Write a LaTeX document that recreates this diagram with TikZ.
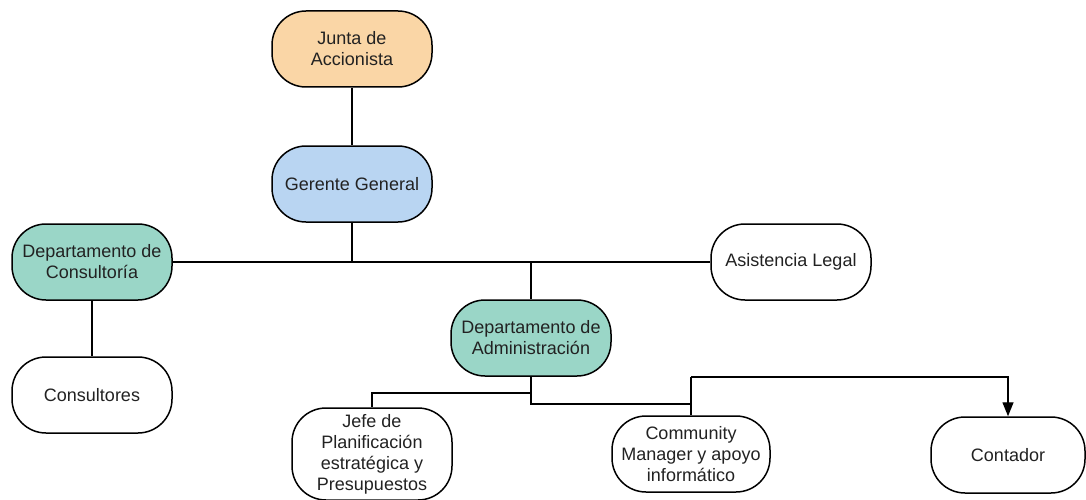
\documentclass[tikz,border=0pt]{standalone}
\usepackage{fontspec}
\setmainfont{Liberation Sans}
\usetikzlibrary{arrows.meta}
\definecolor{peach}{HTML}{FAD6A6}
\definecolor{skyb}{HTML}{B9D5F2}
\definecolor{teal1}{HTML}{9AD6C7}
\definecolor{ink}{HTML}{222222}
\tikzset{
  box/.style={draw=black, line width=1.5pt, rounded corners=34pt, minimum width=160pt, minimum height=76pt, inner sep=0pt, align=center, text=ink, font=\fontsize{18pt}{21pt}\selectfont, fill=white},
  conn/.style={draw=black, line width=1.4pt}
}
\begin{document}
\begin{tikzpicture}[x=1pt,y=-1pt]
\useasboundingbox (0,0) rectangle (1086,500);
\node[box, fill=peach] (junta) at (352,49) {Junta de\\Accionista};
\node[box, fill=skyb] (gerente) at (352,184) {Gerente General};
\node[box, fill=teal1] (consult) at (92,262) {Departamento de\\Consultoría};
\node[box] (asist) at (791,262) {Asistencia Legal};
\node[box] (consultores) at (92,395) {Consultores};
\node[box, fill=teal1] (admin) at (531,338) {Departamento de\\Administración};
\node[box, minimum height=92pt] (jefe) at (372,454) {Jefe de\\Planificación\\estratégica y\\Presupuestos};
\node[box, minimum width=158pt] (comm) at (691,454) {Community\\Manager y apoyo\\informático};
\node[box, minimum width=154pt] (cont) at (1008,455) {Contador};
\coordinate (g1) at (352,263);
\coordinate (a1) at (531,263);
\coordinate (j1) at (531,393);
\coordinate (j2) at (531,404);
\coordinate (c1) at (691,404);
\coordinate (c2) at (691,377);
\draw[conn] (junta.south) -- (gerente.north);
\draw[conn] (gerente.south) -- (g1);
\draw[conn] (consult.east) -- (asist.west);
\draw[conn] (a1) -- (admin.north);
\draw[conn] (consult.south) -- (consultores.north);
\draw[conn] (admin.south) -- (j2) -- (c1);
\draw[conn] (j1) -| (jefe.north);
\draw[conn] (c2) -- (comm.north);
\draw[conn, -{Triangle[length=14pt,width=11pt]}] (c2) -| (cont.north);
\end{tikzpicture}
\end{document}
